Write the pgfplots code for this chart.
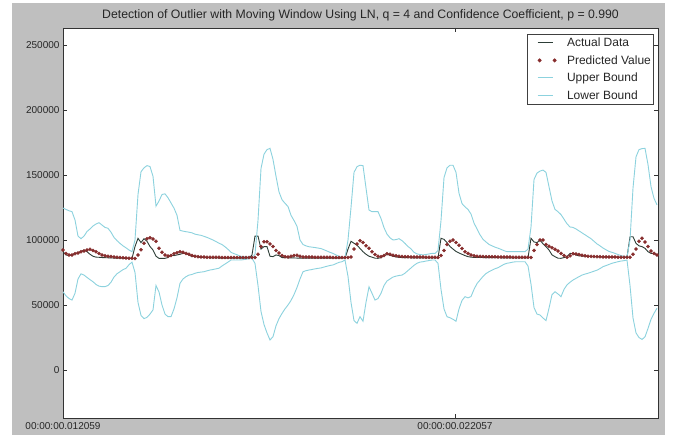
\documentclass[border=0pt]{standalone}
\usepackage{pgfplots}
\pgfplotsset{compat=1.18}
\usepackage{pgfplotstable}
\usepackage{fontspec}
\setmainfont{Liberation Sans}
\definecolor{bg}{RGB}{191,191,191}
\definecolor{actc}{RGB}{45,62,55}
\definecolor{predc}{RGB}{135,45,45}
\definecolor{bndc}{RGB}{140,210,222}
\pgfplotsset{
  lineleg/.style={legend image code/.code={\path (0pt,0pt) (37pt,0pt); \draw[##1] (9pt,0pt) -- (24pt,0pt);}},
  dotleg/.style={legend image code/.code={\path (0pt,0pt) (37pt,0pt); \draw[##1] plot coordinates {(11pt,0pt) (26pt,0pt)};}},
}
\pgfplotstableread{
i A P U L
0 91000 92300 124600 60200
1 88500 89700 123500 57000
2 88000 88500 122500 55000
3 88500 88500 121800 53800
4 89700 89500 115400 59000
5 90000 90000 103000 70000
6 91000 91000 101000 74000
7 92300 91500 103000 73000
8 91000 92300 106500 71200
9 89000 92800 108500 69500
10 87500 92000 110800 67900
11 86800 91000 112300 65800
12 86700 89700 113300 64500
13 86500 88500 111500 64100
14 86400 87800 109700 64100
15 86300 87500 109000 65000
16 86200 87300 106000 67500
17 86100 87000 102000 71500
18 86000 86800 99500 74000
19 86000 86600 97400 75600
20 85900 86400 95500 77200
21 85900 86200 94000 78200
22 85900 86000 92300 81000
23 85900 85900 91000 83000
24 94900 85800 100000 75000
25 101300 88500 135000 52000
26 98000 92500 152500 42000
27 101000 97500 155500 39500
28 99000 101000 157200 40500
29 95000 101800 156500 43000
30 92300 100800 149000 46200
31 87500 99000 126000 65000
32 85900 93600 130000 60000
33 85900 90500 135000 50000
34 85900 88500 135500 43000
35 86500 87700 132500 41000
36 88500 88000 128500 41000
37 88000 89500 124500 47000
38 88500 90200 119000 55500
39 89000 91000 107400 66700
40 89700 90500 106800 70000
41 89700 89700 106400 71800
42 88500 89000 106000 73000
43 87200 88000 105500 73500
44 88000 87500 104500 74400
45 86800 87200 104000 75000
46 86600 87000 103600 75300
47 86500 86900 102800 75600
48 86400 86800 102000 76300
49 86300 86800 101000 76900
50 86200 86700 100000 77300
51 86200 86700 98800 77800
52 86100 86700 97500 78300
53 86100 86600 96500 80000
54 86000 86600 94800 81500
55 86000 86600 92800 83000
56 86000 86600 90500 84600
57 86000 86500 89500 84600
58 86000 86500 88700 84600
59 86000 86500 87500 84600
60 86000 86500 87200 84800
61 86000 86500 87000 85200
62 86000 86500 86800 85600
63 88500 86500 86500 85900
64 103000 86500 89000 82000
65 103000 89000 115000 65000
66 93000 95000 155000 45000
67 94900 98700 166000 35000
68 94900 98700 169500 28500
69 87500 97000 170500 23100
70 87200 95000 162000 25600
71 88500 92000 149000 34000
72 88000 90000 137000 39500
73 86500 88000 131000 43500
74 86400 87200 128200 47000
75 86300 87000 125800 50000
76 86200 87500 119000 53500
77 86200 88000 115000 58000
78 86100 88300 110500 63500
79 86100 87500 100000 70000
80 86000 87000 96500 75600
81 86000 87000 95500 76400
82 86000 86900 94800 76900
83 86000 86900 94500 77300
84 86000 86800 94200 77800
85 86000 86800 93800 78200
86 86000 86800 93400 78500
87 86000 86700 92500 79200
88 86000 86700 91500 79800
89 86000 86700 90500 80400
90 86000 86600 89700 80800
91 86000 86600 88500 81800
92 86000 86600 87500 82800
93 86000 86500 86500 83300
94 86000 86500 86000 84600
95 93000 86500 100000 72000
96 99000 87000 125000 52000
97 97500 93000 152000 38000
98 96000 97000 156400 35900
99 93500 99500 157500 41000
100 91000 98000 157200 37500
101 89000 95500 140000 52000
102 87500 93600 123000 64000
103 86800 91000 121800 59000
104 86000 88800 121800 53800
105 85900 87500 121800 55000
106 86500 87200 116500 59000
107 88000 88000 109500 65000
108 89000 89500 104500 68500
109 88200 89000 101700 70000
110 87500 88200 100000 71500
111 87000 87800 100300 72200
112 86600 87500 101000 72700
113 86500 87300 99500 73000
114 86400 87200 97400 74500
115 86400 87100 95000 76500
116 86300 87000 93200 78500
117 86300 87000 90500 80500
118 86300 86900 89300 82100
119 86300 86900 88800 83000
120 86200 86900 88600 83300
121 86200 86800 88800 83800
122 86200 86800 89300 84200
123 86200 86800 89700 84600
124 86200 86800 89700 84600
125 86200 86600 92000 82000
126 101300 88000 115000 62000
127 100500 92000 148000 47000
128 98000 96500 155500 41000
129 95000 99000 157500 40200
130 93000 100000 157500 39000
131 91200 98000 152000 37500
132 90000 96000 136000 47000
133 89000 93500 128000 53500
134 88000 91000 125500 56400
135 87200 89700 123500 55500
136 86800 88500 120000 56500
137 86600 87800 113000 62000
138 86500 87500 108500 66500
139 86500 87400 104000 69200
140 86500 87300 100500 72000
141 86400 87200 98500 74200
142 86400 87200 96600 75600
143 86400 87100 95500 76800
144 86400 87100 94500 77900
145 86400 87000 93700 78700
146 86300 87000 92800 80000
147 86300 87000 91800 81300
148 86300 86900 91000 82100
149 86300 86900 91000 82500
150 86300 86800 91000 83000
151 86300 86800 91000 83300
152 86300 86800 91000 83300
153 86300 86700 91000 83300
154 86300 86700 91000 83300
155 86300 86700 93000 80000
156 101300 86500 110000 66000
157 98500 92000 146500 48000
158 98000 96500 151500 43000
159 100000 100000 153000 42300
160 97000 100000 153800 40000
161 94900 96500 152000 38000
162 92300 95200 141000 47500
163 88500 94000 130000 58000
164 87200 92800 123500 60200
165 86000 91500 121800 58500
166 85900 89700 119500 56400
167 86500 88000 116000 62000
168 87200 86800 112500 65500
169 89700 87800 110000 67500
170 89500 89500 109700 69200
171 88500 89200 108500 70500
172 87800 88800 107000 71800
173 87600 88200 105500 73000
174 87500 87800 104000 73800
175 87400 87500 102500 74400
176 87300 87400 101000 75200
177 87200 87300 99000 76000
178 87100 87200 97000 76800
179 87000 87100 95500 78000
180 87000 87000 93800 79500
181 86900 87000 92500 80300
182 86900 86900 91200 81200
183 86800 86900 90500 82100
184 86800 86900 89700 82700
185 86800 86800 88800 83300
186 86700 86800 88000 83800
187 86700 86800 87400 84100
188 86700 86800 87200 84600
189 102500 86700 100000 65000
190 102500 89000 140000 40000
191 97400 93000 164000 28500
192 95500 99000 169500 25000
193 94900 101300 170300 23500
194 93600 98500 170500 25500
195 91000 95000 158000 32000
196 89700 91500 141000 39000
197 89700 89700 132000 43600
198 88500 88500 127000 47500
}\datatable
\begin{document}
\begin{tikzpicture}[x=1pt,y=1pt]
\fill[white] (0,0) rectangle (675,435);
\fill[bg] (12,0) rectangle (665,432);
\begin{axis}[
  at={(63pt,17pt)}, anchor=south west,
  width=595pt, height=390pt, scale only axis,
  xmin=0, xmax=198.33,
  ymin=-36923, ymax=263077,
  axis background/.style={fill=white},
  axis line style={draw=black!80, line width=0.8pt},
  tick style={draw=black!80, line width=0.5pt},
  major tick length=4pt,
  tick align=inside,
  xtick={0,130.667},
  xticklabels={00:00:00.012059,00:00:00.022057},
  ytick={0,50000,100000,150000,200000,250000},
  scaled y ticks=false,
  yticklabel style={/pgf/number format/fixed, /pgf/number format/precision=0, /pgf/number format/1000 sep={}},
  /pgf/number format/assume math mode=true,
  tick label style={font=\fontsize{10}{12}\selectfont, text=black!85},
  xticklabel style={yshift=-1pt},
  title={Detection of Outlier with Moving Window Using LN, q = 4 and Confidence Coefficient, p = 0.990},
  title style={font=\fontsize{12.25}{14}\selectfont, at={(0.5,1)}, anchor=base, yshift=3.5pt, text=black!85},
  legend style={at={(0.992,0.985)}, anchor=north east, draw=black!75, line width=0.7pt,
    font=\fontsize{12}{14}\selectfont, text=black!85, cells={anchor=west}, inner xsep=1pt, inner ysep=1.75pt,
    nodes={inner sep=1pt, text height=10pt, text depth=2pt},
    row sep=3.5pt, column sep=0pt},
  legend cell align=left,
  lineleg,
]
\addplot[actc, line width=0.9pt] table[x=i, y=A] {\datatable};
\addlegendentry{Actual Data}
\addplot[only marks, mark=*, mark size=1.6pt, predc, mark options={fill=predc, draw=predc}, dotleg] table[x=i, y=P] {\datatable};
\addlegendentry{Predicted Value}
\addplot[bndc, line width=0.9pt] table[x=i, y=U] {\datatable};
\addlegendentry{Upper Bound}
\addplot[bndc, line width=0.9pt] table[x=i, y=L] {\datatable};
\addlegendentry{Lower Bound}
\end{axis}
\end{tikzpicture}
\end{document}
